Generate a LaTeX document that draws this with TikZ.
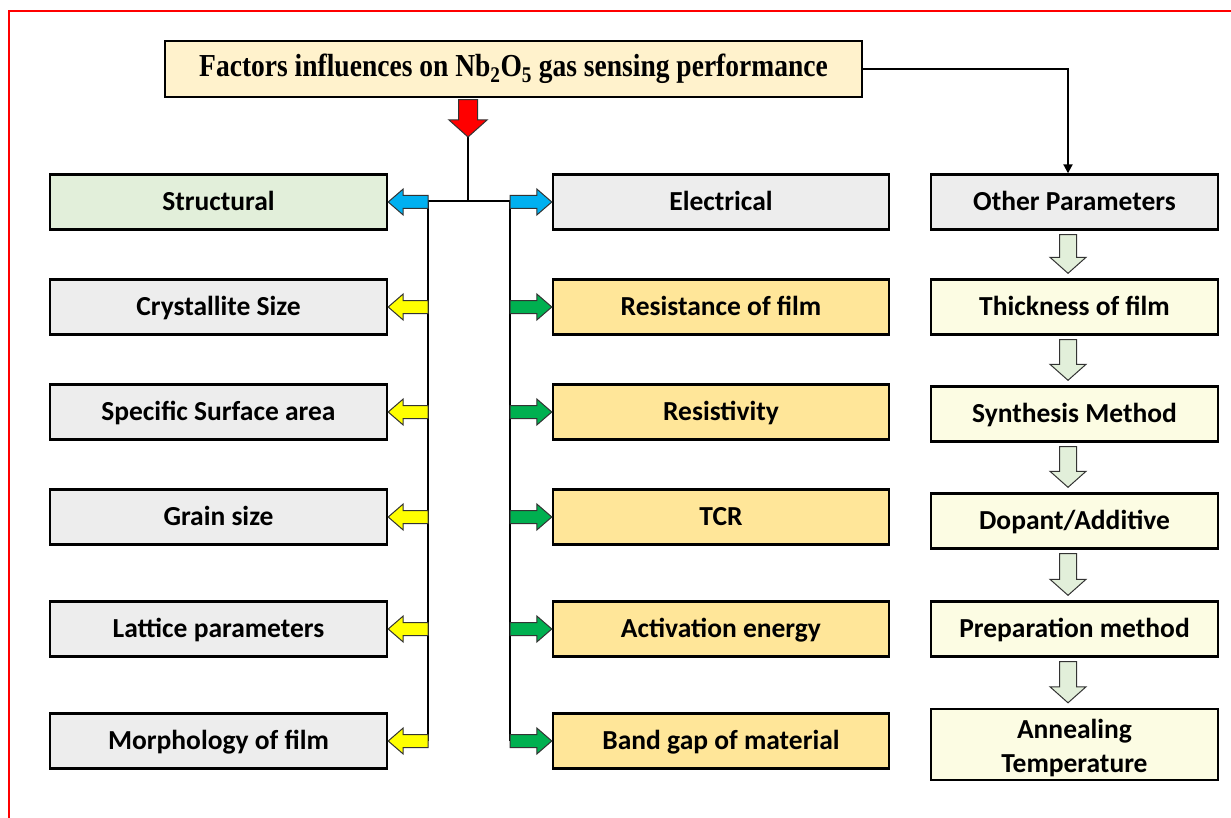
\documentclass[tikz,border=0pt]{standalone}
\usepackage{fontspec}
\setmainfont{Carlito}
\newfontfamily\titlefont{Liberation Serif}
\usetikzlibrary{calc,arrows.meta}
\definecolor{grayfill}{HTML}{EDEDED}
\definecolor{greenfill}{HTML}{E2EFDA}
\definecolor{orangefill}{HTML}{FFE699}
\definecolor{paleyellow}{HTML}{FCFCE3}
\definecolor{topfill}{HTML}{FFF2CC}
\definecolor{bluearr}{HTML}{00B0F0}
\definecolor{yellowarr}{HTML}{FFFF00}
\definecolor{greenarr}{HTML}{00B050}
\definecolor{palegreen}{HTML}{E2EFDA}
\tikzset{
  box/.style={draw=black, line width=2.4pt, minimum height=55, inner sep=0pt,
    font=\bfseries\fontsize{27.5}{34}\selectfont, align=center},
  oneline/.style={text height=23.8pt, text depth=6pt},
  lbox/.style={box, oneline, minimum width=337},
  mbox/.style={box, oneline, minimum width=336},
  rbox/.style={box, oneline, minimum width=287},
  conn/.style={draw=black, line width=2.4pt},
  blk/.style={draw=black!80, line width=1pt, line join=miter},
}
% horizontal block arrow: #1 tail x-coordinate, #2 tip, #3 direction (+1/-1), #4 fill
\newcommand\harr[4]{%
  \draw[blk, fill=#4] let \p1=(#1), \p2=(#2), \n1={(#3)*15} in
   ({\x1},{\y2+6.5}) -- ({\x2-\n1},{\y2+6.5}) -- ({\x2-\n1},{\y2+13}) -- (\x2,\y2)
   -- ({\x2-\n1},{\y2-13}) -- ({\x2-\n1},{\y2-6.5}) -- ({\x1},{\y2-6.5}) -- cycle;}
% vertical down block arrow: #1 column x coordinate, #2 upper box south, #3 lower box north, #4 fill
\newcommand\varr[4]{%
  \draw[blk, fill=#4] let \p0=(#1), \p1=(#2), \p2=(#3) in
   ({\x0-8.5},{\y1-4}) -- ({\x0-8.5},{\y2+21}) -- ({\x0-18},{\y2+21}) -- ({\x0},{\y2+5})
   -- ({\x0+18},{\y2+21}) -- ({\x0+8.5},{\y2+21}) -- ({\x0+8.5},{\y1-4}) -- cycle;}
\begin{document}
\begin{tikzpicture}[x=1pt,y=-1pt]
\useasboundingbox (0,0) rectangle (1231,818);
\draw[red, line width=2.2pt] (9,818) -- (9,11) -- (1231,11);

% top box
\node[box, fill=topfill, minimum width=697, minimum height=56,
  text height=22.2pt, text depth=7pt,
  font=\titlefont\bfseries\fontsize{32}{36}\selectfont] (top) at (513.5,69)
  {\scalebox{0.86}[1]{Factors influences on Nb\textsubscript{2}O\textsubscript{5} gas sensing performance}};

% left column
\node[lbox, fill=greenfill] (s1) at (218.5,202) {Structural};
\node[lbox, fill=grayfill] (s2) at (218.5,307) {Crystallite Size};
\node[lbox, fill=grayfill] (s3) at (218.5,412) {Specific Surface area};
\node[lbox, fill=grayfill] (s4) at (218.5,517) {Grain size};
\node[lbox, fill=grayfill] (s5) at (218.5,629) {Lattice parameters};
\node[lbox, fill=grayfill] (s6) at (218.5,741) {Morphology of film};

% middle column
\node[mbox, fill=grayfill] (e1) at (721,202) {Electrical};
\node[mbox, fill=orangefill] (e2) at (721,307) {Resistance of film};
\node[mbox, fill=orangefill] (e3) at (721,412) {Resistivity};
\node[mbox, fill=orangefill] (e4) at (721,517) {TCR};
\node[mbox, fill=orangefill] (e5) at (721,629) {Activation energy};
\node[mbox, fill=orangefill] (e6) at (721,741) {Band gap of material};

% right column
\node[rbox, fill=grayfill] (o1) at (1074.5,202) {Other Parameters};
\node[rbox, fill=paleyellow] (o2) at (1074.5,307) {Thickness of film};
\node[rbox, fill=paleyellow] (o3) at (1074.5,414) {Synthesis Method};
\node[rbox, fill=paleyellow] (o4) at (1074.5,521) {Dopant/Additive};
\node[rbox, fill=paleyellow] (o5) at (1074.5,629) {Preparation method};
\node[box, minimum width=287, fill=paleyellow, minimum height=71,
  text height=62.8pt, text depth=6pt] (o6) at (1074.5,744.5)
  {Annealing\\Temperature};

% coordinates
\coordinate (stem) at (468,0);
\coordinate (redtip) at (468,137);
\coordinate (bar) at (468,201);
\coordinate (trL) at (428,201);
\coordinate (trR) at (510,201);
\coordinate (colR) at (1068,0);

% connectors
\draw[conn] (redtip) -- (bar);
\draw[conn] (trL) -- (trR);
\draw[conn] (trL) -- (trL |- s6.east);
\draw[conn] (trR) -- (trR |- e6.west);
\draw[draw=black, line width=2pt, -{Triangle[length=9pt,width=9pt]}]
  (top.east) -| (colR |- o1.north);

% red arrow
\draw[blk, fill=red] let \p0=(stem), \p1=(top.south), \p2=(redtip) in
  ({\x0-9.5},{\y1-1.5}) -- ({\x0-9.5},{\y2+17}) -- ({\x0-19},{\y2+17}) -- ({\x0},{\y2})
  -- ({\x0+19},{\y2+17}) -- ({\x0+9.5},{\y2+17}) -- ({\x0+9.5},{\y1-1.5}) -- cycle;

% left arrows
\harr{trL}{s1.east}{-1}{bluearr}
\harr{trL}{s2.east}{-1}{yellowarr}
\harr{trL}{s3.east}{-1}{yellowarr}
\harr{trL}{s4.east}{-1}{yellowarr}
\harr{trL}{s5.east}{-1}{yellowarr}
\harr{trL}{s6.east}{-1}{yellowarr}

% right arrows
\harr{trR}{e1.west}{1}{bluearr}
\harr{trR}{e2.west}{1}{greenarr}
\harr{trR}{e3.west}{1}{greenarr}
\harr{trR}{e4.west}{1}{greenarr}
\harr{trR}{e5.west}{1}{greenarr}
\harr{trR}{e6.west}{1}{greenarr}

% down arrows
\varr{colR}{o1.south}{o2.north}{palegreen}
\varr{colR}{o2.south}{o3.north}{palegreen}
\varr{colR}{o3.south}{o4.north}{palegreen}
\varr{colR}{o4.south}{o5.north}{palegreen}
\varr{colR}{o5.south}{o6.north}{palegreen}
\end{tikzpicture}
\end{document}
